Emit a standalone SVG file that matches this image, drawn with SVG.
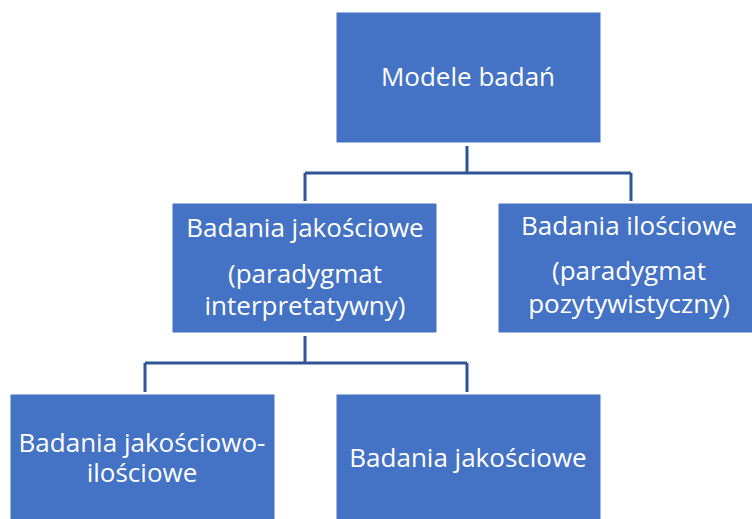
<svg xmlns="http://www.w3.org/2000/svg" width="752" height="519" viewBox="0 0 752 519">
<style>
.box{fill:#4472C4;stroke:#ffffff;stroke-width:1}
.t{font-family:"Open Sans","Liberation Sans",Arial,sans-serif;font-size:26px;fill:#ffffff;text-anchor:middle}
.c{fill:none;stroke:#2F5597;stroke-width:3}
</style>
<rect width="752" height="519" fill="#ffffff"/>
<g id="connectors">
<path class="c" d="M467,146 V173 M305,173 H631 M305,173 V201 M631,173 V201"/>
<path class="c" d="M305,336 V363 M145,363 H467 M145,363 V392 M467,363 V392"/>
</g>
<g id="n-modele">
<rect class="box" x="336" y="12" width="265" height="131"/>
<text class="t" x="468" y="86">Modele badań</text>
</g>
<g id="n-jakosciowe">
<rect class="box" x="172" y="203" width="265" height="130"/>
<text class="t" x="305" y="237">Badania jakościowe</text>
<text class="t" x="305" y="283">(paradygmat</text>
<text class="t" x="305" y="315">interpretatywny)</text>
</g>
<g id="n-ilosciowe">
<rect class="box" x="498" y="203" width="265" height="130"/>
<text class="t" x="629" y="235">Badania ilościowe</text>
<text class="t" x="629" y="280">(paradygmat</text>
<text class="t" x="629" y="313">pozytywistyczny)</text>
</g>
<g id="n-mieszane">
<rect class="box" x="10" y="394" width="265" height="131"/>
<text class="t" x="142" y="452">Badania jakościowo-</text>
<text class="t" x="142" y="482">ilościowe</text>
</g>
<g id="n-jakosciowe2">
<rect class="box" x="336" y="394" width="265" height="131"/>
<text class="t" x="468" y="467">Badania jakościowe</text>
</g>
</svg>
